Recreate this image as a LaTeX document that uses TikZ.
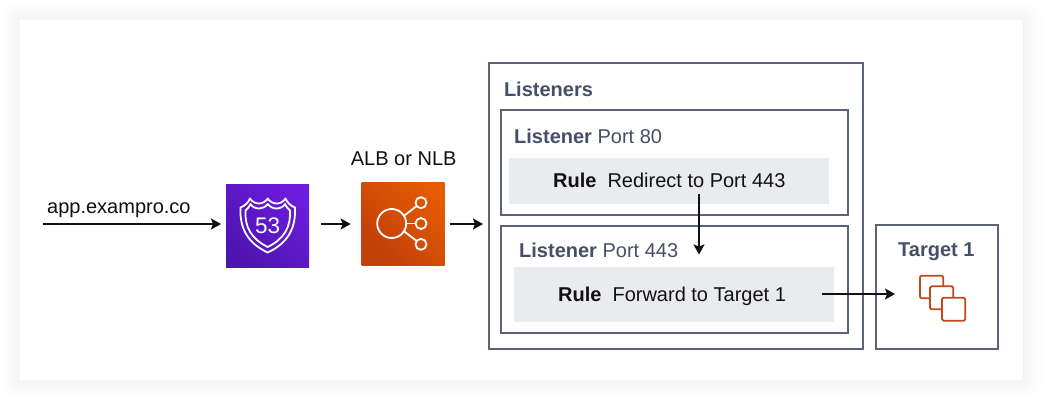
\documentclass[tikz,border=0pt]{standalone}
\usepackage{fontspec}
\setmainfont{Liberation Sans}
\usetikzlibrary{arrows.meta}
\definecolor{slateink}{HTML}{454F68}
\definecolor{boxline}{HTML}{5A6378}
\definecolor{rulegray}{HTML}{E9EBEF}
\definecolor{inkblack}{HTML}{111111}
\definecolor{purpleA}{HTML}{4E14B0}
\definecolor{purpleB}{HTML}{6C1CDC}
\definecolor{orangeA}{HTML}{C03F0A}
\definecolor{orangeB}{HTML}{E45A00}
\definecolor{ec2line}{HTML}{BF4A16}
\tikzset{
  x=1pt,y=-1pt,
  framebox/.style={draw=boxline,line width=1.7pt,fill=white,inner sep=0pt,outer sep=0pt,anchor=north west},
  rulebox/.style={fill=rulegray,inner sep=0pt,outer sep=0pt,anchor=north west},
  iconbox/.style={inner sep=0pt,outer sep=0pt,anchor=north west,minimum width=83pt,minimum height=83pt},
  title/.style={text=slateink,font=\fontsize{20}{22}\selectfont,anchor=base west,inner sep=0pt},
  plain/.style={text=inkblack,font=\fontsize{20}{22}\selectfont,anchor=base west,inner sep=0pt},
  arr/.style={draw=inkblack,line width=1.8pt,-{Stealth[length=10pt,width=11pt,inset=2pt]}},
  glyph/.style={draw=white,line width=1.8pt,line join=round},
  ring/.style={glyph,draw,circle,inner sep=0pt,outer sep=0pt},
  ec2/.style={draw=ec2line,line width=1.8pt,rounded corners=1.5pt},
}
\begin{document}
\begin{tikzpicture}
\useasboundingbox (0,0) rectangle (1043,400);
\fill[white] (0,0) rectangle (1043,400);
\foreach \d in {20,18,...,2}{
  \fill[black,opacity=0.004,rounded corners=\d pt] (20-\d,20-\d) rectangle (1023+\d,380+\d);
}
\fill[white] (20,20) rectangle (1023,380);

\node[framebox,minimum width=374pt,minimum height=286pt] (outer) at (489,63) {};
\node[title] (ltitle) at (503.8,96) {\bfseries Listeners};
\node[framebox,minimum width=347pt,minimum height=105pt] (l80) at (501,110) {};
\node[title] (l80t) at (514,143) {\textbf{Listener} Port 80};
\node[rulebox,minimum width=319.7pt,minimum height=45.7pt] (r80) at (509.3,158.3) {};
\node[plain] (r80t) at (553,187.5) {\textbf{Rule}\hspace{11pt}Redirect to Port 443};
\node[framebox,minimum width=347pt,minimum height=107pt] (l443) at (501,226) {};
\node[title] (l443t) at (519,257.5) {\textbf{Listener} Port 443};
\node[rulebox,minimum width=319.7pt,minimum height=54.4pt] (r443) at (514.3,267.3) {};
\node[plain] (r443t) at (558,301.5) {\textbf{Rule}\hspace{11pt}Forward to Target 1};
\node[framebox,minimum width=122pt,minimum height=124pt] (target) at (876,225) {};
\node[title,anchor=base] (tt) at (936.3,256.7) {\bfseries Target 1};

\node[plain] (app) at (47,213) {app.exampro.co};
\node[plain] (albt) at (350.7,165) {ALB or NLB};

\node[iconbox] (r53) at (226,184) {};
\shade[bottom color=purpleA,top color=purpleB,shading angle=-45] (226,184) rectangle (309,267);
\node[iconbox] (alb) at (361.5,182.3) {};
\shade[bottom color=orangeA,top color=orangeB,shading angle=-45] (361.5,182.3) rectangle (444.5,265.3);

% Route 53 shield
\draw[glyph] (250,198.5) .. controls (252,202) and (256,203.5) .. (259,203.5)
  .. controls (262,203.5) and (266,201.5) .. (267.7,198.5)
  .. controls (269.5,201.5) and (273.5,203.5) .. (276.5,203.5)
  .. controls (279.5,203.5) and (283.5,202) .. (285.5,198.5)
  .. controls (287,202.5) and (291,206) .. (295,207.5)
  .. controls (296,228) and (288,243) .. (267.7,252.5)
  .. controls (247.5,243) and (239.5,228) .. (240.5,207.5)
  .. controls (244.5,206) and (248.5,202.5) .. (250,198.5) -- cycle;
\draw[glyph] (250.5,204) .. controls (252,207) and (256,208.5) .. (259,208.5)
  .. controls (262,208.5) and (265.5,207) .. (267.7,204)
  .. controls (270,207) and (273.5,208.5) .. (276.5,208.5)
  .. controls (279.5,208.5) and (283.5,207) .. (285,204)
  .. controls (286,206.5) and (288,209) .. (290,210.5)
  .. controls (291,227) and (284,239) .. (267.7,247)
  .. controls (251.5,239) and (244.5,227) .. (245.5,210.5)
  .. controls (247.5,209) and (249.5,206.5) .. (250.5,204) -- cycle;
\node[text=white,font=\fontsize{22.5}{24}\selectfont,inner sep=0pt] (fiftythree) at (267.7,225.7) {53};

% Load balancer glyph
\node[ring,minimum size=29pt] (hub) at (391.7,223.5) {};
\node[ring,minimum size=11pt] (n1) at (421,202.7) {};
\node[ring,minimum size=11pt] (n2) at (421,223.5) {};
\node[ring,minimum size=11pt] (n3) at (421,244.3) {};
\draw[glyph] (hub) -- (n2);
\draw[glyph] (hub.32) -- (n1);
\draw[glyph] (hub.-32) -- (n3);

% Target glyph
\draw[ec2] (930,298.3) -- (920,298.3) -- (920,275.7) -- (943.3,275.7) -- (943.3,286.3);
\draw[ec2] (942,309.3) -- (930,309.3) -- (930,286.3) -- (953.3,286.3) -- (953.3,297.7);
\draw[ec2] (942,297.7) rectangle (965.3,320.7);

% Connectors
\coordinate (appstart) at (43,224);
\draw[arr,shorten >=5pt] (appstart) -- (appstart -| r53.west);
\draw[arr,shorten <=11.7pt,shorten >=10.8pt] ([yshift=1.5pt]r53.east) -- ([yshift=1.5pt]r53.east -| alb.west);
\draw[arr,shorten <=5pt,shorten >=6pt] ([yshift=-0.2pt]alb.east) -- ([yshift=-0.2pt]alb.east -| outer.west);
\coordinate (downstart) at (699,194);
\coordinate (downend) at (699,254.5);
\draw[arr] (downstart) -- (downend);
\coordinate (fwdstart) at (821.7,294);
\draw[arr,shorten >=-19pt] (fwdstart) -- (fwdstart -| target.west);
\end{tikzpicture}
\end{document}
